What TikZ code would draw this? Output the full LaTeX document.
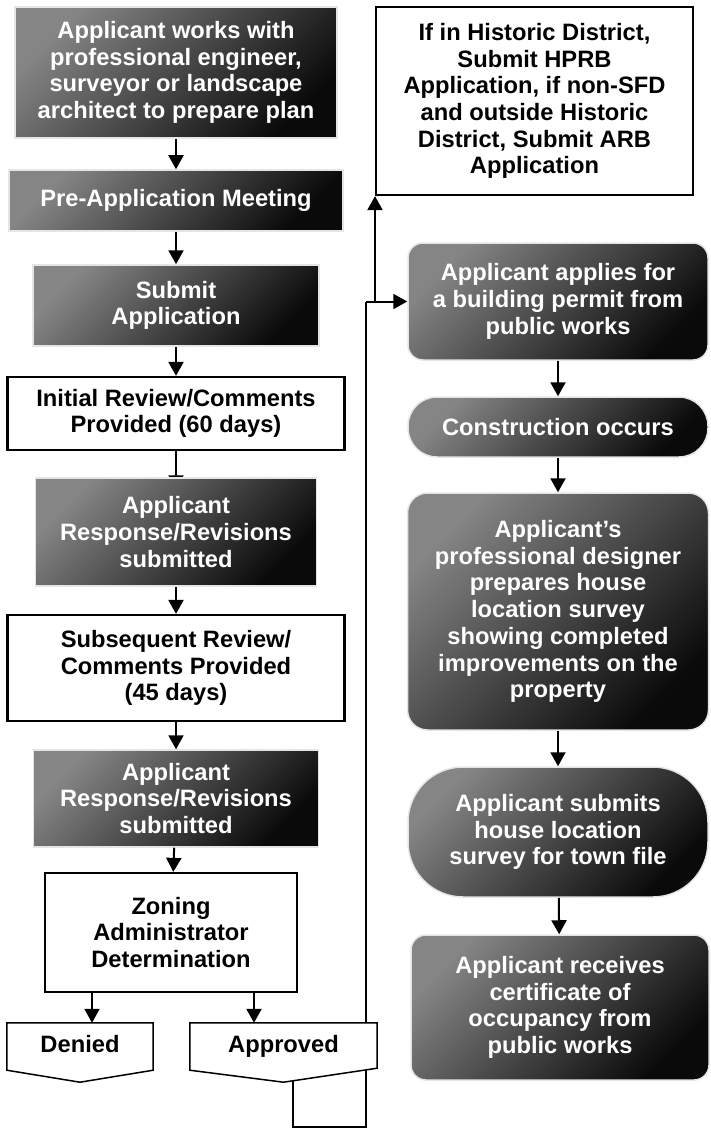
\documentclass[tikz,border=0pt]{standalone}
\usepackage{fontspec}
\setmainfont{Liberation Sans}
\usetikzlibrary{arrows.meta, calc, backgrounds}

\begin{document}
\begin{tikzpicture}[
  x=1pt, y=-1pt,
  every node/.style={font=\fontsize{23.7}{26.7}\selectfont\bfseries, align=center, inner sep=0pt},
  darkbox/.style={top color=black!48, bottom color=black!96, shading angle=45,
                  draw=black!10, line width=1.5pt, text=white},
  whitebox/.style={draw, fill=white, line width=2.2pt},
  endbox/.style={text height=17pt, text depth=5pt},
  arrow/.style={-{Triangle[length=14pt, width=15pt]}, line width=2pt},
  link/.style={line width=2pt},
]
\useasboundingbox (0,0) rectangle (710,1134);

% ---- Review column (left) ----
\node[darkbox, minimum width=322pt, minimum height=131pt] (plan) at (176,72.5) {Applicant works with\\professional engineer,\\surveyor or landscape\\architect to prepare plan};
\node[darkbox, minimum width=334pt, minimum height=61pt] (premeet) at (176,200.5) {Pre-Application Meeting};
\node[darkbox, minimum width=286pt, minimum height=81pt] (submit) at (176,305.5) {Submit\\Application};
\node[whitebox, minimum width=337pt, minimum height=73pt] (initrev) at (176,413.5) {Initial Review/Comments\\Provided (60 days)};
\node[darkbox, minimum width=281pt, minimum height=108pt] (resp1) at (176,532) {Applicant\\Response/Revisions\\submitted};
\node[whitebox, minimum width=337pt, minimum height=106pt] (subrev) at (176,668) {Subsequent Review/\\Comments Provided\\(45 days)};
\node[darkbox, minimum width=285pt, minimum height=97pt] (resp2) at (176,798.5) {Applicant\\Response/Revisions\\submitted};
\node[whitebox, minimum width=252pt, minimum height=119pt] (zoning) at (171,932.5) {Zoning\\Administrator\\Determination};

\node[endbox, minimum width=146pt, minimum height=47pt] (denied) at (80,1046.5) {Denied};
\node[endbox, minimum width=187pt, minimum height=47pt] (approved) at (283.5,1046.5) {Approved};

\draw[arrow] (plan) -- (premeet);
\draw[arrow] (premeet) -- (submit);
\draw[arrow] (submit) -- (initrev);
\draw[arrow] (resp1) -- (subrev);
\draw[arrow] (subrev) -- (resp2);
\draw[arrow] (resp2) -- (zoning);
\draw[arrow] ([xshift=-79pt]zoning.south) -- ([xshift=-79pt]zoning.south |- denied.north);
\draw[arrow] ([xshift=83pt]zoning.south) -- ([xshift=83pt]zoning.south |- approved.north);

% ---- Permit column (right) ----
\node[whitebox, minimum width=317pt, minimum height=188pt] (hprb) at (534.5,101) {If in Historic District,\\Submit HPRB\\Application, if non-SFD\\and outside Historic\\District, Submit ARB\\Application};
\node[darkbox, rounded corners=15pt, minimum width=300pt, minimum height=117pt] (permit) at (558,301.5) {Applicant applies for\\a building permit from\\public works};
\node[darkbox, rounded corners=29pt, minimum width=300pt, minimum height=60pt] (build) at (558,427) {Construction occurs};
\node[darkbox, rounded corners=20pt, minimum width=301pt, minimum height=237pt] (designer) at (558,611.5) {Applicant’s\\professional designer\\prepares house\\location survey\\showing completed\\improvements on the\\property};
\node[darkbox, rounded corners=55pt, minimum width=300pt, minimum height=130pt] (survey) at (558,832) {Applicant submits\\house location\\survey for town file};
\node[darkbox, rounded corners=15pt, minimum width=298pt, minimum height=145pt] (certificate) at (560,1007.5) {Applicant receives\\certificate of\\occupancy from\\public works};

\draw[arrow] (permit) -- (build);
\draw[arrow] (build) -- (designer);
\draw[arrow] (designer) -- (survey);
\draw[arrow] (survey) -- (certificate);

% ---- Approval loop ----
\coordinate (loopright) at (366,1127);
\coordinate (turn) at (loopright |- permit.west);

\begin{scope}[on background layer]
  \draw[arrow] (initrev) -- ([yshift=-12pt]resp1.north);
  \draw[link] ([xshift=9pt]approved.center) |- (loopright) -- (turn);
  \draw[whitebox, line width=1.5pt] (denied.north west) -- (denied.north east) -- (denied.south east)
    -- ([yshift=-12pt]denied.south) -- (denied.south west) -- cycle;
  \draw[whitebox, line width=1.5pt] (approved.north west) -- (approved.north east) -- ([yshift=2pt]approved.south east)
    -- ([yshift=-12pt]approved.south) -- (approved.south west) -- cycle;
\end{scope}

\draw[arrow] (turn) -- (permit.west);
\draw[arrow] ([xshift=9pt]turn) -- ([xshift=9pt]turn |- hprb.south);

\end{tikzpicture}
\end{document}
